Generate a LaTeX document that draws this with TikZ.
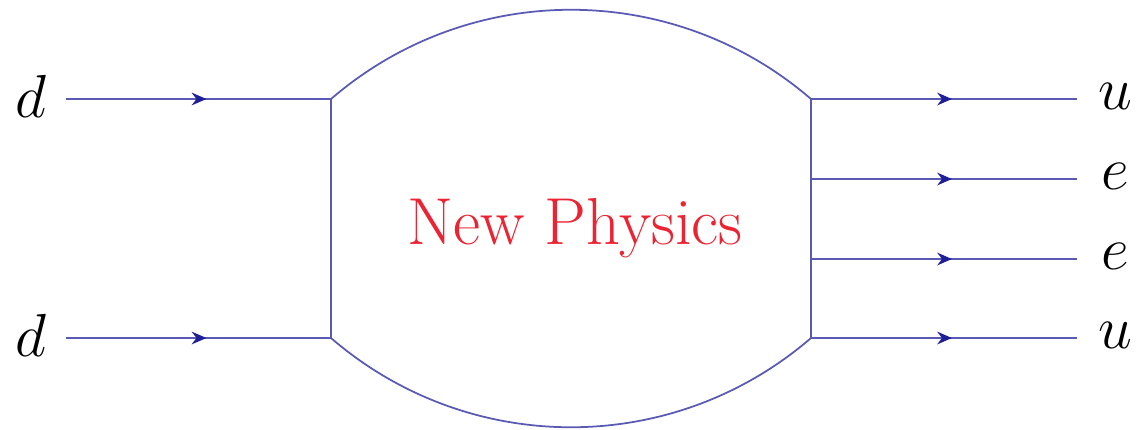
\documentclass[tikz,border=0pt]{standalone}
\usetikzlibrary{decorations.markings,arrows.meta}
\definecolor{lineblue}{RGB}{90,90,180}
\definecolor{arrblue}{RGB}{30,30,150}
\definecolor{npred}{RGB}{235,35,50}
\tikzset{
  x=0.01cm,y=-0.01cm,
  fermion/.style={draw=lineblue,line width=0.5pt,
    postaction={decorate},
    decoration={markings,mark=at position 0.53 with {\arrow[arrblue]{Stealth[length=4.2pt,width=3.6pt]}}}},
  blobline/.style={draw=lineblue,line width=0.5pt},
  lab/.style={font=\fontsize{18}{21}\selectfont,inner sep=0pt},
}
\begin{document}
\begin{tikzpicture}
\useasboundingbox (0,0) rectangle (1139,429);
% blob corners
\coordinate (TL) at (331,99);
\coordinate (BL) at (331,338);
\coordinate (TR) at (811,99);
\coordinate (BR) at (811,338);
\coordinate (R2) at (811,179);
\coordinate (R3) at (811,259);
% external ends
\coordinate (in1) at (66,99);
\coordinate (in2) at (66,338);
\coordinate (out1) at (1077,99);
\coordinate (out2) at (1077,179);
\coordinate (out3) at (1077,259);
\coordinate (out4) at (1077,338);
% labels
\node[lab] (d1) at (31,96) {$d$};
\node[lab] (d2) at (31,335) {$d$};
\node[lab] (u1) at (1115,96) {$u$};
\node[lab] (e1) at (1115,176) {$e$};
\node[lab] (e2) at (1115,256) {$e$};
\node[lab] (u2) at (1115,335) {$u$};
% blob
\draw[blobline] (TL) -- (BL);
\draw[blobline] (TR) -- (BR);
\draw[blobline] (TL) .. controls (469,-20) and (673,-20) .. (TR);
\draw[blobline] (BL) .. controls (469,457) and (673,457) .. (BR);
\node[text=npred,font=\fontsize{18.9}{22}\selectfont,inner sep=0pt] (np) at (575,228) {New Physics};
% fermion lines
\draw[fermion] (in1) -- (TL);
\draw[fermion] (in2) -- (BL);
\draw[fermion] (TR) -- (out1);
\draw[fermion] (R2) -- (out2);
\draw[fermion] (R3) -- (out3);
\draw[fermion] (BR) -- (out4);
\end{tikzpicture}
\end{document}
